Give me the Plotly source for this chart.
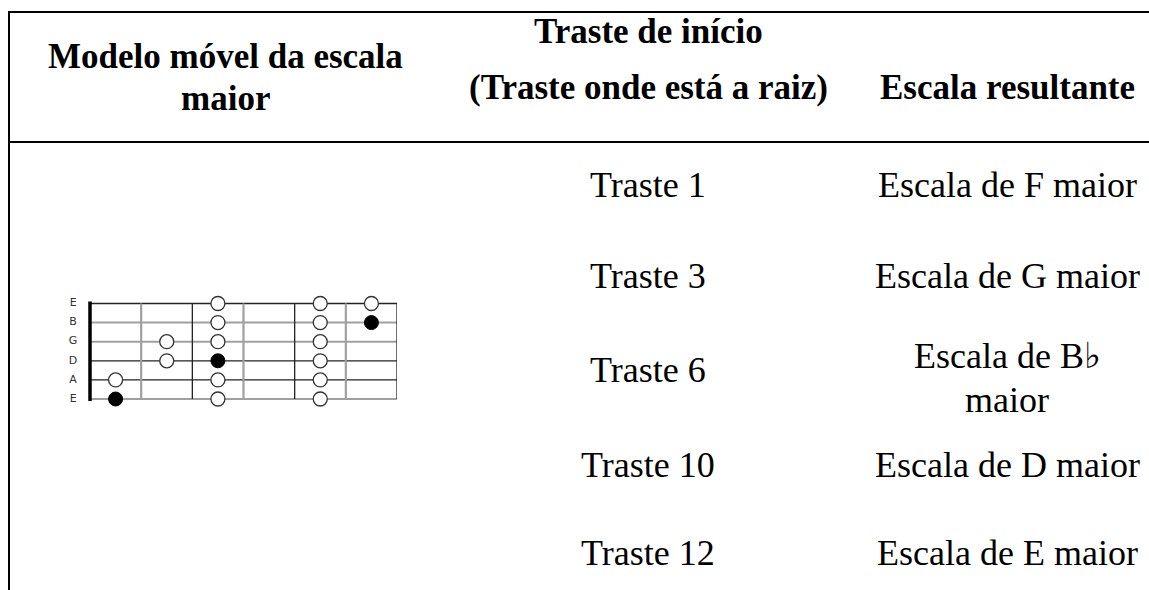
import plotly.graph_objects as go

# ---------------- data ----------------
header_col1 = ["Modelo móvel da escala", "maior"]
header_col2 = ["Traste de início", "(Traste onde está a raiz)"]
header_col3 = ["Escala resultante"]
start_frets = ["Traste 1", "Traste 3", "Traste 6", "Traste 10", "Traste 12"]
result_scales = ["Escala de F maior", "Escala de G maior", "Escala de B♭\nmaior",
                 "Escala de D maior", "Escala de E maior"]

string_names = ["E", "B", "G", "D", "A", "E"]          # top (high E) to bottom (low E)
n_frets = 6
# notes of the movable major-scale shape: (string index 1..6 from top, fret)
open_notes = [(1, 3), (1, 5), (1, 6),
              (2, 3), (2, 5),
              (3, 2), (3, 3), (3, 5),
              (4, 2), (4, 5),
              (5, 1), (5, 3), (5, 5),
              (6, 3), (6, 5)]
root_notes = [(2, 6), (4, 3), (6, 1)]

# ---------------- layout constants ----------------
W, H = 1149, 590
SERIF = "Liberation Serif, Times New Roman, serif"
col_x = [225, 648, 1007]
body_size = 36
head_size = 35

fig = go.Figure()

# page coordinate axes (pixels)
fig.update_layout(
    width=W, height=H, margin=dict(l=0, r=0, t=0, b=0),
    paper_bgcolor="white", plot_bgcolor="white", showlegend=False,
    xaxis=dict(range=[0, W], visible=False, domain=[0, 1], fixedrange=True),
    yaxis=dict(range=[H, 0], visible=False, domain=[0, 1], fixedrange=True),
)

# table borders
line_style = dict(color="black", width=2)
fig.add_shape(type="line", x0=9, x1=W, y0=12, y1=12, xref="x", yref="y", line=line_style)
fig.add_shape(type="line", x0=9, x1=W, y0=142, y1=142, xref="x", yref="y", line=line_style)
fig.add_shape(type="line", x0=9, x1=9, y0=11, y1=H, xref="x", yref="y", line=line_style)

def text(x, baseline, s, size, bold=False):
    fig.add_annotation(x=x, y=baseline - 0.335 * size, xref="x", yref="y", text=s,
                       showarrow=False, xanchor="center", yanchor="middle",
                       font=dict(family=SERIF, size=size, color="black",
                                 weight="bold" if bold else "normal"))

# header
for s, b in zip(header_col1, [68, 110]):
    text(col_x[0], b, s, head_size, True)
for s, b in zip(header_col2, [43, 99]):
    text(col_x[1], b, s, head_size, True)
for s, b in zip(header_col3, [99]):
    text(col_x[2], b, s, head_size, True)

# body
row_base = [197, 288, 382, 477, 565]
for s, b in zip(start_frets, row_base):
    text(col_x[1], b, s, body_size)
for s, b in zip(result_scales, row_base):
    lines = s.split("\n")
    if len(lines) == 1:
        text(col_x[2], b, lines[0], body_size)
    else:
        b0 = b - 14
        for i, ln in enumerate(lines):
            text(col_x[2], b0 + 44 * i, ln, body_size)

# ---------------- fretboard on its own axes ----------------
fx0, fx1 = 90, 397          # nut and last fret in pixels
fy0, fy1 = 303.5, 399       # top and bottom strings in pixels
fret_w = (fx1 - fx0) / n_frets
str_h = (fy1 - fy0) / (len(string_names) - 1)
xr = [-0.5, n_frets]
yr = [0.5, len(string_names) + 0.5]
px_left = fx0 + xr[0] * fret_w
px_right = fx0 + xr[1] * fret_w
py_top = fy0 - 0.5 * str_h
py_bot = fy1 + 0.5 * str_h
fig.update_layout(
    xaxis2=dict(range=xr, domain=[px_left / W, px_right / W], visible=False,
                anchor="y2", fixedrange=True),
    yaxis2=dict(range=[yr[1], yr[0]], domain=[1 - py_bot / H, 1 - py_top / H],
                visible=False, anchor="x2", fixedrange=True),
)

n_str = len(string_names)
dark = "#222222"
grey = "#a0a0a0"
grey_strings = (2, 3, 6)
grey_frets = (1, 3, 5)
# strings
for i in range(1, n_str + 1):
    col, wd = (grey, 2) if i in grey_strings else (dark, 1.3)
    fig.add_trace(go.Scatter(x=[0, n_frets], y=[i, i], mode="lines", xaxis="x2", yaxis="y2",
                             line=dict(color=col, width=wd), hoverinfo="skip"))
# frets
for f in range(1, n_frets + 1):
    col, wd = (grey, 2.2) if f in grey_frets else (dark, 1.3)
    fig.add_trace(go.Scatter(x=[f, f], y=[1, n_str], mode="lines", xaxis="x2", yaxis="y2",
                             line=dict(color=col, width=wd), hoverinfo="skip"))
# nut
fig.add_trace(go.Scatter(x=[0, 0], y=[0.9, n_str + 0.1], mode="lines", xaxis="x2", yaxis="y2",
                         line=dict(color="black", width=3.5), hoverinfo="skip"))
# string names
fig.add_trace(go.Scatter(x=[-0.33] * n_str, y=list(range(1, n_str + 1)), mode="text",
                         text=string_names, xaxis="x2", yaxis="y2", hoverinfo="skip",
                         textfont=dict(family="DejaVu Sans, sans-serif", size=11, color="#333")))
# notes
fig.add_trace(go.Scatter(x=[f - 0.5 for s, f in open_notes], y=[s for s, f in open_notes],
                         mode="markers", xaxis="x2", yaxis="y2", cliponaxis=False,
                         marker=dict(size=14, color="white", line=dict(color="#333", width=1.3)),
                         hoverinfo="skip"))
fig.add_trace(go.Scatter(x=[f - 0.5 for s, f in root_notes], y=[s for s, f in root_notes],
                         mode="markers", xaxis="x2", yaxis="y2", cliponaxis=False,
                         marker=dict(size=14, color="black", line=dict(color="black", width=1)),
                         hoverinfo="skip"))

fig.write_html("out.html", config={"displayModeBar": False},
               post_script="document.body.style.margin='0';document.body.style.overflow='hidden';")
